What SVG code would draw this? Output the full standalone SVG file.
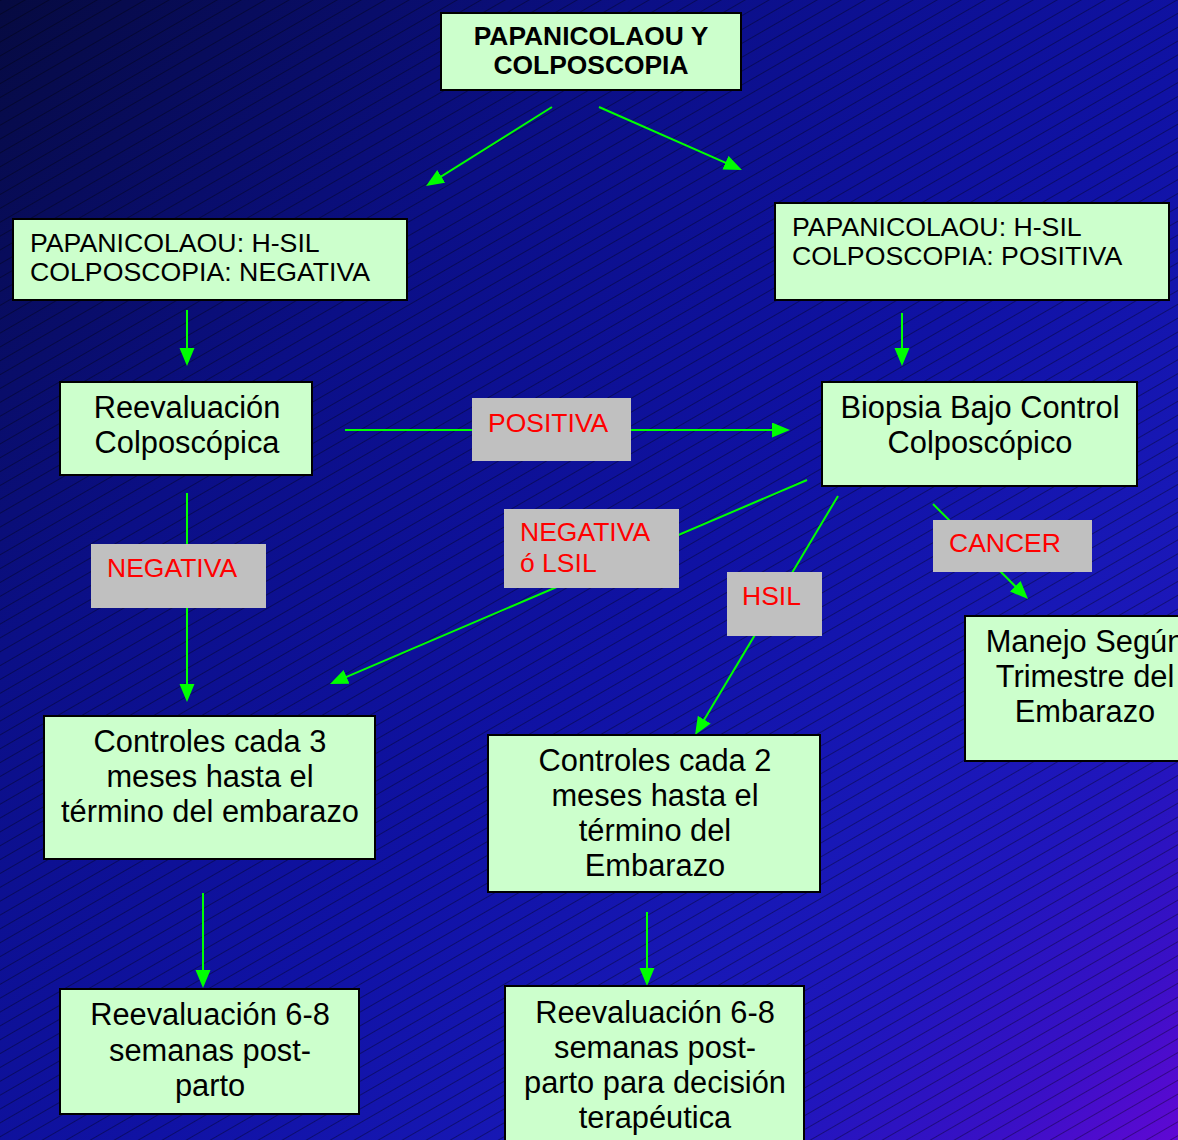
<svg xmlns="http://www.w3.org/2000/svg" width="1178" height="1140" viewBox="0 0 1178 1140">
  <defs>
    <linearGradient id="bg" gradientUnits="userSpaceOnUse" x1="0" y1="0" x2="1178" y2="1140">
      <stop offset="0" stop-color="#060a40"/>
      <stop offset="0.28" stop-color="#0b0f86"/>
      <stop offset="0.55" stop-color="#1012a4"/>
      <stop offset="0.72" stop-color="#1818b6"/>
      <stop offset="0.82" stop-color="#2016bc"/>
      <stop offset="0.92" stop-color="#3a10c6"/>
      <stop offset="1" stop-color="#6008d4"/>
    </linearGradient>
    <pattern id="hatch" patternUnits="userSpaceOnUse" width="24" height="12" patternTransform="rotate(-30)">
      <line x1="0" y1="0.5" x2="24" y2="0.5" stroke="#000000" stroke-opacity="0.35" stroke-width="1"/>
    </pattern>
    <marker id="arrow" markerUnits="userSpaceOnUse" markerWidth="18" markerHeight="16" refX="14" refY="7.5" orient="auto">
      <path d="M0,0 L18,7.5 L0,15 z" fill="#00ff00"/>
    </marker>
    <style>
      .box { fill: #ccffcc; stroke: #000000; stroke-width: 2; }
      .tag { fill: #c0c0c0; }
      .big { font-family: "Liberation Sans", Arial, sans-serif; font-size: 30.8px; fill: #000000; text-anchor: middle; }
      .small { font-family: "Liberation Sans", Arial, sans-serif; font-size: 26.7px; fill: #000000; }
      .title { font-family: "Liberation Sans", Arial, sans-serif; font-size: 26.4px; font-weight: bold; fill: #000000; text-anchor: middle; }
      .lbl { font-family: "Liberation Sans", Arial, sans-serif; font-size: 26.5px; fill: #ff0000; }
      .conn line { stroke: #00ff00; stroke-width: 2; fill: none; }
    </style>
  </defs>

  <!-- background -->
  <rect x="0" y="0" width="1178" height="1140" fill="url(#bg)"/>
  <rect x="0" y="0" width="1178" height="1140" fill="url(#hatch)"/>

  <!-- connectors -->
  <g id="connectors" class="conn">
    <line x1="552" y1="107" x2="429.4" y2="183.9" marker-end="url(#arrow)"/>
    <line x1="599" y1="107" x2="738.3" y2="168.4" marker-end="url(#arrow)"/>
    <line x1="187" y1="310" x2="187" y2="362" marker-end="url(#arrow)"/>
    <line x1="902" y1="313" x2="902" y2="362" marker-end="url(#arrow)"/>
    <line x1="345" y1="430" x2="786" y2="430" marker-end="url(#arrow)"/>
    <line x1="187" y1="493" x2="187" y2="698" marker-end="url(#arrow)"/>
    <line x1="807" y1="480" x2="333.7" y2="682.4" marker-end="url(#arrow)"/>
    <line x1="838" y1="496" x2="697.1" y2="731.6" marker-end="url(#arrow)"/>
    <line x1="933" y1="504" x2="1025.2" y2="596.2" marker-end="url(#arrow)"/>
    <line x1="203" y1="893" x2="203" y2="984" marker-end="url(#arrow)"/>
    <line x1="647" y1="912" x2="647" y2="982" marker-end="url(#arrow)"/>
  </g>

  <!-- edge labels -->
  <g id="label-positiva">
    <rect class="tag" x="472" y="398" width="159" height="63"/>
    <text class="lbl" x="488" y="432">POSITIVA</text>
  </g>
  <g id="label-negativa">
    <rect class="tag" x="91" y="544" width="175" height="64"/>
    <text class="lbl" x="107" y="577">NEGATIVA</text>
  </g>
  <g id="label-negativa-lsil">
    <rect class="tag" x="504" y="509" width="175" height="79"/>
    <text class="lbl" x="520" y="541">NEGATIVA</text>
    <text class="lbl" x="520" y="572">ó LSIL</text>
  </g>
  <g id="label-hsil">
    <rect class="tag" x="727" y="572" width="95" height="64"/>
    <text class="lbl" x="742" y="605">HSIL</text>
  </g>
  <g id="label-cancer">
    <rect class="tag" x="933" y="520" width="159" height="52"/>
    <text class="lbl" x="949" y="552">CANCER</text>
  </g>

  <!-- nodes -->
  <g id="node-papanicolaou">
    <rect class="box" x="441" y="13" width="300" height="77"/>
    <text class="title" x="591" y="45">PAPANICOLAOU Y</text>
    <text class="title" x="591" y="74">COLPOSCOPIA</text>
  </g>
  <g id="node-hsil-negativa">
    <rect class="box" x="13" y="219" width="394" height="81"/>
    <text class="small" x="30" y="252">PAPANICOLAOU: H-SIL</text>
    <text class="small" x="30" y="281">COLPOSCOPIA: NEGATIVA</text>
  </g>
  <g id="node-hsil-positiva">
    <rect class="box" x="775" y="203" width="394" height="97"/>
    <text class="small" x="792" y="236">PAPANICOLAOU: H-SIL</text>
    <text class="small" x="792" y="265">COLPOSCOPIA: POSITIVA</text>
  </g>
  <g id="node-reevaluacion">
    <rect class="box" x="60" y="382" width="252" height="93"/>
    <text class="big" x="187" y="418">Reevaluación</text>
    <text class="big" x="187" y="453">Colposcópica</text>
  </g>
  <g id="node-biopsia">
    <rect class="box" x="822" y="382" width="315" height="104"/>
    <text class="big" x="980" y="418">Biopsia Bajo Control</text>
    <text class="big" x="980" y="453">Colposcópico</text>
  </g>
  <g id="node-controles-3">
    <rect class="box" x="44" y="716" width="331" height="143"/>
    <text class="big" x="210" y="752">Controles cada 3</text>
    <text class="big" x="210" y="787">meses hasta el</text>
    <text class="big" x="210" y="822">término del embarazo</text>
  </g>
  <g id="node-controles-2">
    <rect class="box" x="488" y="735" width="332" height="157"/>
    <text class="big" x="655" y="771">Controles cada 2</text>
    <text class="big" x="655" y="806">meses hasta el</text>
    <text class="big" x="655" y="841">término del</text>
    <text class="big" x="655" y="876">Embarazo</text>
  </g>
  <g id="node-manejo">
    <rect class="box" x="965" y="616" width="240" height="145"/>
    <text class="big" x="1085" y="652">Manejo Según</text>
    <text class="big" x="1085" y="687">Trimestre del</text>
    <text class="big" x="1085" y="722">Embarazo</text>
  </g>
  <g id="node-reev-postparto">
    <rect class="box" x="60" y="989" width="299" height="125"/>
    <text class="big" x="210" y="1025">Reevaluación 6-8</text>
    <text class="big" x="210" y="1061">semanas post-</text>
    <text class="big" x="210" y="1096">parto</text>
  </g>
  <g id="node-reev-decision">
    <rect class="box" x="505" y="986" width="299" height="170"/>
    <text class="big" x="655" y="1023">Reevaluación 6-8</text>
    <text class="big" x="655" y="1058">semanas post-</text>
    <text class="big" x="655" y="1093">parto para decisión</text>
    <text class="big" x="655" y="1128">terapéutica</text>
  </g>
</svg>
